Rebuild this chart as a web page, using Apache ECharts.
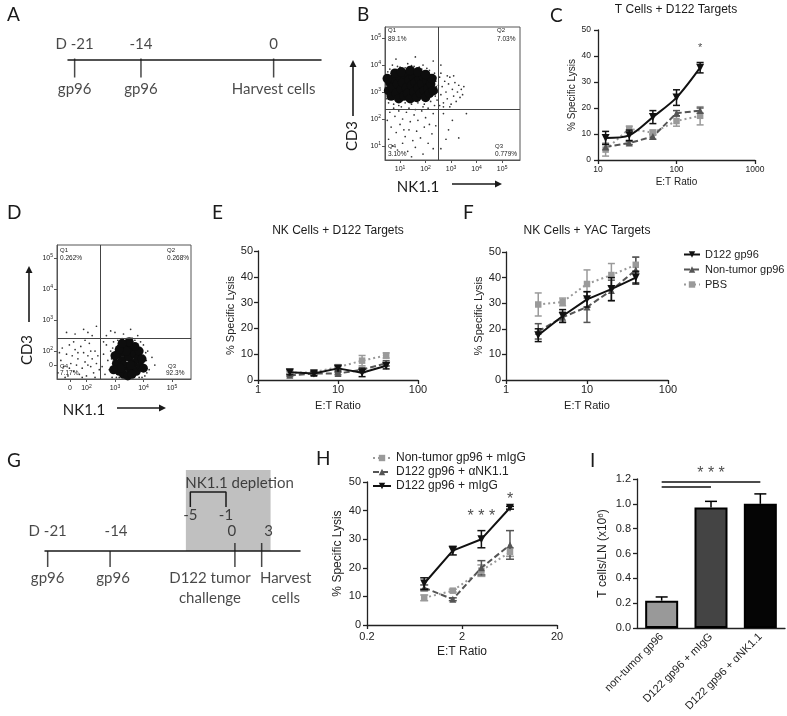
<!DOCTYPE html>
<html><head><meta charset="utf-8">
<script src="https://cdn.jsdelivr.net/npm/echarts@6/dist/echarts.min.js"></script>
<style>html,body{margin:0;padding:0;background:#fff}#c{width:787px;height:716px}</style>
</head><body><div id="c"></div>
<script>
// ================= DATA =================
// Panel A timeline (days)
const daysA = [-21, -14, 0];
const topLabelsA = ['D -21', '-14', '0'];
const bottomLabelsA = ['gp96', 'gp96', 'Harvest cells'];
// Panel G timeline (days)
const daysG = [-21, -14, 0, 3];
const topLabelsG = ['D -21', '-14', '0', '3'];
const bottomLabelsG = ['gp96', 'gp96', 'D122 tumor\nchallenge', 'Harvest\ncells'];
const depletionDays = [-5, -1];
const depletionWindow = [-5.5, 4];

// Panel B flow (log10 decades): dense core and sparse events
const bCore = [[0.55,3.05],[0.6,3.35],[0.65,2.85],[0.7,3.15],[0.75,3.5],[0.85,2.95],[0.9,3.3],[0.95,2.75],[1.0,3.55],[1.05,3.1],[1.1,3.35],[1.15,2.85],[1.2,3.65],[1.25,3.15],[1.3,2.95],[1.35,3.45],[1.4,2.75],[1.45,3.25],[1.5,3.6],[1.55,3.0],[1.6,3.35],[1.65,2.8],[1.7,3.15],[1.75,3.5],[1.8,2.95],[1.85,3.3],[1.9,3.6],[1.95,3.05],[2.0,2.8],[2.05,3.4],[2.1,3.15],[2.15,2.95],[2.2,3.3],[2.25,3.5],[2.3,3.05],[0.8,3.7],[1.05,3.75],[1.4,3.8],[1.7,3.75],[2.0,3.65],[0.5,3.5]];
const bDots = [[0.6,3.85],[0.9,3.95],[1.2,3.9],[1.55,3.95],[1.85,3.85],[2.15,3.8],[2.35,3.7],[0.7,4.0],[1.3,4.05],[1.9,4.0],[1.6,4.3],[2.3,4.15],[0.84,4.22],[2.6,4.0],
[1.0,3.92],[1.45,3.98],[1.75,3.92],[2.05,3.88],[2.4,3.55],[2.42,3.2],[2.38,2.85],[0.48,2.75],[0.52,3.75],
[2.4,3.4],[2.45,3.0],[2.45,2.7],[2.5,3.25],[2.55,3.55],[2.6,2.9],[2.65,3.2],[2.7,2.6],[2.75,3.4],[2.8,3.0],[2.85,2.75],[2.9,3.3],[2.95,3.55],[3.0,2.55],[3.05,3.1],[3.1,2.85],[3.15,3.35],[3.2,2.65],[3.25,3.0],[3.3,3.25],[3.35,2.8],[3.4,3.1],[2.6,3.7],[2.85,3.6],[3.1,3.6],[3.45,2.9],[2.7,2.45],[2.95,2.45],[3.5,3.2],[2.55,2.5],
[0.55,2.6],[0.75,2.55],[0.95,2.5],[1.2,2.6],[1.45,2.55],[1.7,2.6],[1.95,2.55],[2.2,2.65],[0.6,2.25],[0.8,2.1],[0.95,2.3],[1.1,2.0],[1.25,2.25],[1.4,1.9],[1.55,2.15],[1.7,1.95],[1.85,2.3],[2.0,2.05],[2.15,1.8],[2.3,2.2],[0.65,1.7],[0.85,1.5],[1.0,1.8],[1.2,1.35],[1.35,1.6],[1.5,1.2],[1.65,1.55],[1.8,1.3],[1.95,1.7],[2.1,1.1],[2.25,1.45],[0.7,1.0],[0.9,0.85],[1.1,1.1],[1.3,0.8],[1.6,0.95],[1.9,0.7],[2.3,0.9],[0.55,1.25],[1.45,0.6],[0.75,2.4],[1.05,2.45],[1.35,2.4],[1.6,2.35],[1.9,2.45],[2.1,2.4],[2.35,2.5],[0.5,1.95],[2.4,1.75],[1.15,1.6],
[2.7,2.2],[2.9,1.6],[3.05,1.95],[3.3,1.3],[2.6,0.9],[3.6,2.2],[2.8,1.25]];
const bGate = [2.49, 2.37];
const bPct = ['89.1%', '7.03%', '0.779%', '3.10%']; // Q1 Q2 Q3 Q4

// Panel D flow (display decades)
const dCore = [[3.05,1.6],[3.1,1.9],[3.15,1.35],[3.2,2.1],[3.25,1.7],[3.3,1.25],[3.35,1.95],[3.4,1.5],[3.45,2.2],[3.5,1.8],[3.55,1.3],[3.6,2.05],[3.65,1.6],[3.7,1.9],[3.75,1.35],[3.8,1.75],[3.85,2.0],[3.9,1.5],[3.3,1.55],[3.55,1.55],[3.45,1.2],[3.2,1.45],[3.6,1.25],[3.4,2.0],[3.7,2.15],[3.0,1.85],[3.95,1.75],[3.15,2.05],[2.95,1.4],[4.0,1.45],[3.5,2.3],[3.25,2.25]];
const dDots = [[1.0,1.3],[1.1,1.7],[1.15,2.1],[1.2,1.5],[1.3,1.9],[1.35,1.2],[1.4,2.2],[1.45,1.6],[1.5,1.85],[1.55,1.35],[1.6,2.05],[1.65,1.55],[1.7,1.75],[1.75,1.25],[1.8,2.15],[1.85,1.45],[1.9,1.95],[1.95,1.65],[2.0,1.2],[2.05,1.85],[2.1,2.25],[2.15,1.5],[2.2,1.75],[2.25,1.3],[2.3,2.0],[2.35,1.6],[2.4,1.85],[2.45,1.4],[1.25,1.15],[1.55,2.3],[1.85,1.15],[2.05,1.55],[1.05,1.95],[2.3,1.15],[1.7,1.95],[1.4,1.45],[2.15,2.0],[1.95,2.35],
[1.6,2.55],[1.9,2.7],[2.2,2.5],[2.35,2.8],[1.3,2.6],[2.05,2.6],
[2.7,2.5],[3.0,2.6],[3.3,2.55],[3.55,2.7],[3.8,2.5],[2.85,2.65],
[2.55,1.5],[2.6,1.9],[2.65,1.25],[2.7,2.2],[2.75,1.7],[2.8,1.4],[2.85,2.0],[2.9,1.15],[2.95,2.3],[4.05,1.2],[4.1,1.7],[4.15,2.0],[4.2,1.4],[4.3,1.8],[3.4,2.4],[3.7,2.35],[3.1,2.35],[3.9,2.3],[4.0,2.2],[2.6,2.3],[3.05,1.15],[3.85,1.15],[4.4,1.55],[2.7,1.05],
[2.88,1.75],[2.92,2.1],[4.08,1.95],[4.12,1.3],[3.6,2.42],[3.25,2.4],[3.95,1.15],[3.15,1.15]];
const dGate = [2.47, 2.42];
const dPct = ['0.262%', '0.268%', '92.3%', '7.17%'];

// Panel C: T cells + D122 targets
const etC = [12.5, 25, 50, 100, 200];
const cD122 = [8.5, 9.5, 16.5, 24, 35.5],  cD122Err = [2.5, 2, 2.5, 3, 2];
const cNT   = [5, 6.5, 9, 18, 19],         cNTErr   = [1, 0.6, 1, 1, 1];
const cPBS  = [4, 12, 10.5, 15, 17],       cPBSErr  = [2.5, 1, 1, 2, 3.5];
const cStars = [[200, 43, '*']];

// Panel E: NK cells + D122 targets
const etE = [2.5, 5, 10, 20, 40];
const eD122 = [3, 2.5, 4.5, 2.8, 5.5],   eD122Err = [1, 0.8, 1, 1.5, 1.2];
const eNT   = [1.8, 2.5, 2.5, 4, 6.5],   eNTErr   = [0.5, 0.5, 0.5, 0.8, 1];
const ePBS  = [2.8, 3, 5, 7.5, 9.5],     ePBSErr  = [0.5, 0.5, 0.8, 2, 1];

// Panel F: NK cells + YAC targets
const etF = [2.5, 5, 10, 20, 40];
const fD122 = [17.5, 25, 31.5, 35.5, 40], fD122Err = [2.5, 2.5, 3, 4.5, 2.5];
const fNT   = [19, 24.5, 28.5, 35, 43],   fNTErr   = [3, 2, 6, 4, 5];
const fPBS  = [29.5, 30.5, 37.5, 41, 45], fPBSErr  = [4.5, 1.5, 5.5, 4.5, 3];

// Panel H
const etH = [0.8, 1.6, 3.2, 6.4];
const hMIgG = [14.5, 26, 30, 41],  hMIgGErr = [2, 1.5, 3, 0.5];
const hANK  = [13, 9, 20, 28],     hANKErr  = [1, 0.5, 2.5, 5];
const hNT   = [9.5, 12, 19, 25.5], hNTErr   = [1, 0.5, 2, 1.5];
const hStars = [[3.2, 38, '* * *'], [6.4, 44, '*']];

// Panel I
const iCats = ['non-tumor gp96', 'D122 gp96 + mIgG', 'D122 gp96 + \u03b1NK1.1'];
const iVals = [0.22, 0.97, 1.0];
const iErr  = [0.03, 0.05, 0.08];
const iSig  = [[0, 2, 1.176], [0, 1, 1.136]];
const iStars = [[1, 1.24, '* * *']];

// ================= STYLE =================
const FONT = '"Liberation Sans", Arial, sans-serif';
const SF = 'Lato, "Open Sans", sans-serif';
const INK = '#1a1a1a';
const ST = {
  d122: {color:'#111', type:'solid', symbol:'triangle', rotate:180, size:8},
  nt:   {color:'#555', type:[6,3], symbol:'triangle', rotate:0, size:7},
  pbs:  {color:'#9a9a9a', type:[2,3], symbol:'rect', rotate:0, size:6.5}
};

function lineS(name, gi, xs, ys, st, smooth, z) {
  return {type:'line', name:name, xAxisIndex:gi, yAxisIndex:gi,
    data: xs.map((x,i)=>[x, ys[i]]), symbol: st.symbol, symbolRotate: st.rotate,
    symbolSize: st.size, smooth: smooth || false, z: z,
    lineStyle:{color:st.color, width:2, type:st.type}, itemStyle:{color:st.color}};
}
function errS(gi, xs, ys, es, color, cap, upOnly, z) {
  return {type:'custom', xAxisIndex:gi, yAxisIndex:gi, z: z, silent:true,
    data: xs.map((x,i)=>[x, ys[i], es[i]]),
    renderItem: function(p, api) {
      const x = api.value(0), y = api.value(1), e = api.value(2);
      const lo = api.coord([x, upOnly ? y : y - e]), hi = api.coord([x, y + e]);
      const h = cap / 2, s = {stroke: color, lineWidth: 1.5};
      const ch = [
        {type:'line', shape:{x1:lo[0], y1:lo[1], x2:hi[0], y2:hi[1]}, style:s},
        {type:'line', shape:{x1:hi[0]-h, y1:hi[1], x2:hi[0]+h, y2:hi[1]}, style:s}];
      if (!upOnly) ch.push({type:'line', shape:{x1:lo[0]-h, y1:lo[1], x2:lo[0]+h, y2:lo[1]}, style:s});
      return {type:'group', children: ch};
    }};
}
function annotS(gi, arr, fs, z) {
  return {type:'scatter', xAxisIndex:gi, yAxisIndex:gi, symbolSize:0, clip:false, silent:true, z: z || 10,
    data: arr.map(a => ({value:[a[0], a[1]], label:{formatter: a[2]}})),
    label:{show:true, position:'inside', fontSize:fs, color:INK, fontFamily:FONT}};
}
function lysisAxes(gi, xmin, xmax, xvals, o) {
  const x = {gridIndex:gi, type:'log', logBase:10, min:xmin, max:xmax,
    name:'E:T Ratio', nameLocation:'middle', nameGap:o.xng, nameMoveOverlap:false,
    nameTextStyle:{fontSize:o.nfs, color:'#222', fontFamily:FONT},
    axisLine:{show:true, lineStyle:{color:'#222', width:1.3}},
    axisTick:{show:true, customValues:xvals, length:4, lineStyle:{color:'#222', width:1.3}},
    axisLabel:{customValues:xvals, fontSize:o.tfs, color:'#222', fontFamily:FONT, margin:o.xm,
      formatter: v => String(+(+v).toPrecision(3))},
    splitLine:{show:false}, minorTick:{show:false}};
  const y = {gridIndex:gi, type:'value', min:0, max:50, interval:10,
    name:'% Specific Lysis', nameLocation:'middle', nameGap:o.yng, nameMoveOverlap:false,
    nameTextStyle:{fontSize:o.nfs, color:'#222', fontFamily:FONT},
    axisLine:{show:true, lineStyle:{color:'#222', width:1.3}},
    axisTick:{show:true, length:4, lineStyle:{color:'#222', width:1.3}},
    axisLabel:{fontSize:o.tfs, color:'#222', fontFamily:FONT, margin:o.ym},
    splitLine:{show:false}};
  return [x, y];
}
const supRich = {s:{fontSize:5, verticalAlign:'top', lineHeight:9, fontFamily:FONT, color:'#222'}};
function flowAxes(gi, xr, yr, xvals, yvals, zeroX, zeroY) {
  const fmt = zero => v => (zero !== null && Math.abs(v - zero) < 1e-6) ? '0' : '10{s|' + Math.round(v) + '}';
  const base = {splitLine:{show:false}, axisLine:{show:true, lineStyle:{color:'#555', width:1}}};
  const x = Object.assign({gridIndex:gi, type:'value', min:xr[0], max:xr[1],
    axisTick:{show:true, customValues:xvals, length:3, lineStyle:{color:'#555'}},
    axisLabel:{customValues:xvals, formatter: fmt(zeroX), rich:supRich, fontSize:7, lineHeight:9, color:'#222', fontFamily:FONT, margin:5}}, base);
  const y = Object.assign({gridIndex:gi, type:'value', min:yr[0], max:yr[1],
    axisTick:{show:true, customValues:yvals, length:3, lineStyle:{color:'#555'}},
    axisLabel:{customValues:yvals, formatter: fmt(zeroY), rich:supRich, fontSize:7, lineHeight:9, color:'#222', fontFamily:FONT, margin:4}}, base);
  return [x, y];
}
function flowSeries(gi, core, dots, gate, coreSize) {
  return [
    {type:'scatter', xAxisIndex:gi, yAxisIndex:gi, data:dots, symbolSize:1.7, silent:true,
      itemStyle:{color:'#333', opacity:1}, z:3},
    {type:'scatter', xAxisIndex:gi, yAxisIndex:gi, data:core, symbolSize:coreSize, silent:true,
      itemStyle:{color:'#0d0d0d', opacity:1}, z:4,
      markLine:{silent:true, symbol:'none', label:{show:false}, animation:false,
        lineStyle:{color:'#444', width:1, type:'solid'},
        data:[{xAxis:gate[0]}, {yAxis:gate[1]}]}}
  ];
}
function timelineSeries(gi, days, tops, bottoms, topDist, botDist, tickCfg, offs) {
  const lab = {fontFamily:SF, fontSize:15, color:INK, lineHeight:20};
  return [
    {type:'scatter', xAxisIndex:gi, yAxisIndex:gi, symbol:'rect', clip:false, silent:true, z:6,
      itemStyle:{color:INK},
      data: days.map((d,i)=>({value:[d,0], symbolSize:tickCfg[i][0], symbolOffset:tickCfg[i][1]}))},
    {type:'scatter', xAxisIndex:gi, yAxisIndex:gi, symbolSize:0, clip:false, silent:true, z:6,
      data: days.map((d,i)=>({value:[d,0], label:{offset:[offs ? offs.top[i] : 0, 0]}})),
      label:Object.assign({show:true, position:'top', distance:topDist, formatter:p=>tops[p.dataIndex]}, lab)},
    {type:'scatter', xAxisIndex:gi, yAxisIndex:gi, symbolSize:0, clip:false, silent:true, z:6,
      data: days.map((d,i)=>({value:[d,0], label:{offset:[offs ? offs.bot[i] : 0, 0]}})),
      label:Object.assign({show:true, position:'bottom', distance:botDist, formatter:p=>bottoms[p.dataIndex]}, lab)}
  ];
}
function timelineAxes(gi, xmin, xmax) {
  return [
    {gridIndex:gi, type:'value', min:xmin, max:xmax, z:10,
      axisLine:{show:true, onZero:false, lineStyle:{color:INK, width:1.5}},
      axisTick:{show:false}, axisLabel:{show:false}, splitLine:{show:false}},
    {gridIndex:gi, type:'value', min:0, max:1, show:false, splitLine:{show:false}}
  ];
}

// ================= AXES =================
const grids = [
  {left:68, top:20, width:253, height:40},   // 0 A
  {left:385, top:27, width:135, height:133, show:true, borderColor:'#555', borderWidth:1}, // 1 B
  {left:598, top:30, width:157, height:130}, // 2 C
  {left:57, top:245, width:134, height:134, show:true, borderColor:'#555', borderWidth:1}, // 3 D
  {left:258, top:251, width:160, height:129}, // 4 E
  {left:506, top:252, width:162, height:128}, // 5 F
  {left:45, top:470, width:255, height:81},   // 6 G
  {left:367, top:482, width:190, height:143}, // 7 H
  {left:637, top:479, width:148, height:149}  // 8 I
].map(g => Object.assign({outerBoundsMode:'none', containLabel:false}, g));

const axA = timelineAxes(0, -21.7, 5.0);
const axB = flowAxes(1, [0.41, 5.7], [0.48, 5.41], [1,2,3,4,5], [1,2,3,4,5], null, null);
const axC = lysisAxes(2, 10, 1000, [10,100,1000], {tfs:8.5, nfs:10, xng:17, yng:21, xm:5, ym:7});
const axD = flowAxes(3, [0.965, 5.67], [1.10, 5.42], [1.42,2,3,4,5], [1.55,2,3,4,5], 1.42, 1.55);
const axE = lysisAxes(4, 1, 100, [1,10,100], {tfs:11, nfs:11, xng:20, yng:22, xm:4, ym:5});
const axF = lysisAxes(5, 1, 100, [1,10,100], {tfs:11, nfs:11, xng:20, yng:22, xm:4, ym:5});
const axG = timelineAxes(6, -21.3, 7.3);
const axH = lysisAxes(7, 0.2, 20, [0.2,2,20], {tfs:11, nfs:12, xng:21, yng:23, xm:6, ym:6});
const axIx = {gridIndex:8, type:'category', data:iCats,
  axisLine:{show:true, lineStyle:{color:'#222', width:1.3}}, axisTick:{show:false},
  axisLabel:{interval:0, rotate:45, fontSize:11, color:'#222', fontFamily:FONT, margin:7}, splitLine:{show:false}};
const axIy = {gridIndex:8, type:'value', min:0, max:1.2, interval:0.2,
  name:'T cells/LN (x10{s|6})', nameLocation:'middle', nameGap:28, nameMoveOverlap:false,
  nameTextStyle:{fontSize:12, color:'#222', fontFamily:FONT, rich:{s:{fontSize:8, verticalAlign:'top', fontFamily:FONT, color:'#222'}}},
  axisLine:{show:true, lineStyle:{color:'#222', width:1.3}},
  axisTick:{show:true, length:4, lineStyle:{color:'#222', width:1.3}},
  axisLabel:{fontSize:11, color:'#222', fontFamily:FONT, margin:6, formatter:v=>(+v).toFixed(1)},
  splitLine:{show:false}};

const xAxes = [axA[0], axB[0], axC[0], axD[0], axE[0], axF[0], axG[0], axH[0], axIx];
const yAxes = [axA[1], axB[1], axC[1], axD[1], axE[1], axF[1], axG[1], axH[1], axIy];

// ================= SERIES =================
const series = [];
// A
series.push(...timelineSeries(0, daysA, topLabelsA, bottomLabelsA, 6, 19,
  daysA.map(()=>[[1.5,19],[0,8]])));
// G
const brLow = 0.543, brHigh = 0.728;
series.push({type:'line', xAxisIndex:6, yAxisIndex:6, silent:true, symbol:'none', z:6,
  lineStyle:{color:INK, width:1.5},
  data:[[depletionDays[0], brLow],[depletionDays[0], brHigh],[depletionDays[1], brHigh],[depletionDays[1], brLow]],
  markArea:{silent:true, itemStyle:{color:'#c0c0c0'}, z:1,
    data:[[{xAxis:depletionWindow[0], yAxis:0},{xAxis:depletionWindow[1], yAxis:1}]]}});
series.push({type:'scatter', xAxisIndex:6, yAxisIndex:6, symbolSize:0, clip:false, silent:true, z:6,
  data: depletionDays.map(d=>[d, brLow]),
  label:{show:true, position:'bottom', distance:1, formatter:p=>String(depletionDays[p.dataIndex]), fontFamily:SF, fontSize:15, color:INK}});
series.push({type:'scatter', xAxisIndex:6, yAxisIndex:6, symbolSize:0, clip:false, silent:true, z:6,
  data:[[depletionDays[0], brHigh]],
  label:{show:true, position:'top', distance:1, align:'left', offset:[-5,0], formatter:'NK1.1 depletion', fontFamily:SF, fontSize:15, color:INK}});
series.push(...timelineSeries(6, daysG, topLabelsG, bottomLabelsG, 10, 17,
  [[[1.5,16],[0,8]], [[1.5,16],[0,8]], [[1.5,24],[0,4]], [[1.5,24],[0,4]]],
  {top:[0, 6, -3, 7], bot:[0, 3, -25, 24]}));
// B, D
series.push(...flowSeries(1, bCore, bDots, bGate, 9.5));
series.push(...flowSeries(3, dCore, dDots, dGate, 9));
// C
series.push(errS(2, etC, cPBS, cPBSErr, ST.pbs.color, 7, false, 3));
series.push(errS(2, etC, cNT, cNTErr, ST.nt.color, 7, false, 3));
series.push(errS(2, etC, cD122, cD122Err, ST.d122.color, 7, false, 5));
series.push(lineS('PBS', 2, etC, cPBS, ST.pbs, false, 4));
series.push(lineS('Non-tumor gp96', 2, etC, cNT, ST.nt, false, 4));
series.push(lineS('D122 gp96', 2, etC, cD122, ST.d122, 0.3, 6));
series.push(annotS(2, cStars, 11));
// E
series.push(errS(4, etE, ePBS, ePBSErr, ST.pbs.color, 7, false, 3));
series.push(errS(4, etE, eNT, eNTErr, ST.nt.color, 7, false, 3));
series.push(errS(4, etE, eD122, eD122Err, ST.d122.color, 7, false, 5));
series.push(lineS('PBS', 4, etE, ePBS, ST.pbs, false, 4));
series.push(lineS('Non-tumor gp96', 4, etE, eNT, ST.nt, false, 4));
series.push(lineS('D122 gp96', 4, etE, eD122, ST.d122, false, 6));
// F
series.push(errS(5, etF, fPBS, fPBSErr, ST.pbs.color, 7, false, 3));
series.push(errS(5, etF, fNT, fNTErr, ST.nt.color, 7, false, 3));
series.push(errS(5, etF, fD122, fD122Err, ST.d122.color, 7, false, 5));
series.push(lineS('PBS', 5, etF, fPBS, ST.pbs, false, 4));
series.push(lineS('Non-tumor gp96', 5, etF, fNT, ST.nt, false, 4));
series.push(lineS('D122 gp96', 5, etF, fD122, ST.d122, false, 6));
// H
series.push(errS(7, etH, hNT, hNTErr, ST.pbs.color, 8, false, 3));
series.push(errS(7, etH, hANK, hANKErr, ST.nt.color, 8, false, 3));
series.push(errS(7, etH, hMIgG, hMIgGErr, ST.d122.color, 8, false, 5));
series.push(lineS('Non-tumor gp96 + mIgG', 7, etH, hNT, ST.pbs, false, 4));
series.push(lineS('D122 gp96 + \u03b1NK1.1', 7, etH, hANK, ST.nt, false, 4));
series.push(lineS('D122 gp96 + mIgG', 7, etH, hMIgG, ST.d122, false, 6));
series.push(annotS(7, hStars, 16));
// I
const barColors = ['#999999', '#444444', '#050505'];
series.push({type:'bar', xAxisIndex:8, yAxisIndex:8, barWidth:33, z:3,
  data: iVals.map((v,i)=>({value:v, itemStyle:{color:barColors[i]}})),
  itemStyle:{borderColor:'#000', borderWidth:2},
  markLine:{silent:true, symbol:'none', label:{show:false}, animation:false,
    lineStyle:{color:'#111', width:1.5, type:'solid'},
    data: iSig.map(s=>[{coord:[s[0], s[2]]}, {coord:[s[1], s[2]]}])}});
series.push(errS(8, [0,1,2], iVals, iErr, '#000', 12, true, 2));
series.push(annotS(8, iStars, 16));

// ================= GRAPHIC (labels, arrows, gate text) =================
function T(x, y, text, fs, o) {
  o = o || {};
  const el = {type:'text', x:x, y:y, silent:true, z:20,
    style:{text:text, fontSize:fs, fontFamily:o.ff || FONT, fill:o.fill || INK,
      align:o.align || 'left', verticalAlign:'middle'}};
  if (o.rot) el.rotation = o.rot;
  return el;
}
function arrowUp(x, y1, y2) {
  return [{type:'line', silent:true, shape:{x1:x, y1:y1, x2:x, y2:y2+6}, style:{stroke:INK, lineWidth:1.6}},
          {type:'polygon', silent:true, shape:{points:[[x-3.5,y2+7],[x+3.5,y2+7],[x,y2]]}, style:{fill:INK}}];
}
function arrowRight(x1, x2, y) {
  return [{type:'line', silent:true, shape:{x1:x1, y1:y, x2:x2-6, y2:y}, style:{stroke:INK, lineWidth:1.6}},
          {type:'polygon', silent:true, shape:{points:[[x2-7,y-3.5],[x2-7,y+3.5],[x2,y]]}, style:{fill:INK}}];
}
const Lf = {ff:SF};
const graphics = [
  T(7, 15, 'A', 19, Lf), T(357, 15, 'B', 19, Lf), T(550, 16, 'C', 19, Lf),
  T(7, 213, 'D', 19, Lf), T(212, 213, 'E', 19, Lf), T(463, 213, 'F', 19, Lf),
  T(7, 461, 'G', 19, Lf), T(316, 459, 'H', 19, Lf), T(590, 461, 'I', 19, Lf),
  // titles
  T(676, 10, 'T Cells + D122 Targets', 12, {align:'center'}),
  T(338, 231, 'NK Cells + D122 Targets', 12, {align:'center'}),
  T(587, 231, 'NK Cells + YAC Targets', 12, {align:'center'}),
  // flow axis titles
  T(352, 136, 'CD3', 15, {ff:SF, align:'center', rot:Math.PI/2}),
  T(418, 187, 'NK1.1', 15, {ff:SF, align:'center'}),
  T(27, 350, 'CD3', 15, {ff:SF, align:'center', rot:Math.PI/2}),
  T(84, 410, 'NK1.1', 15, {ff:SF, align:'center'}),
  ...arrowUp(353, 116, 60), ...arrowRight(452, 502, 184),
  ...arrowUp(29, 322, 266), ...arrowRight(117, 166, 408),
  // gate labels B
  T(388, 30, 'Q1', 6), T(388, 39.5, bPct[0], 6.5),
  T(497, 30, 'Q2', 6), T(497, 39.5, bPct[1], 6.5),
  T(495, 146.5, 'Q3', 6), T(495, 154, bPct[2], 6.5),
  T(388, 146.5, 'Q4', 6), T(388, 154, bPct[3], 6.5),
  // gate labels D
  T(60, 250, 'Q1', 6), T(60, 258.5, dPct[0], 6.5),
  T(167, 250, 'Q2', 6), T(167, 258.5, dPct[1], 6.5),
  T(168, 366, 'Q3', 6), T(166, 373.5, dPct[2], 6.5),
  T(60, 366, 'Q4', 6), T(60, 373.5, dPct[3], 6.5)
];

const option = {
  animation:false, backgroundColor:'#ffffff',
  textStyle:{fontFamily:FONT},
  grid:grids, xAxis:xAxes, yAxis:yAxes,
  legend:[
    {show:true, selectedMode:false, orient:'vertical', left:683, top:249, padding:0,
     itemWidth:16, itemHeight:8, itemGap:4,
     textStyle:{fontSize:11, color:'#222', fontFamily:FONT},
     data:['D122 gp96', 'Non-tumor gp96', 'PBS']},
    {show:true, selectedMode:false, orient:'vertical', left:372, top:452, padding:0,
     itemWidth:18, itemHeight:8, itemGap:2,
     textStyle:{fontSize:12, color:'#222', fontFamily:FONT},
     data:['Non-tumor gp96 + mIgG', 'D122 gp96 + \u03b1NK1.1', 'D122 gp96 + mIgG']}
  ],
  series:series,
  graphic:{elements:graphics}
};
const chart = echarts.init(document.getElementById('c'), null, {renderer:'canvas'});
chart.setOption(option);
</script>
</body></html>
